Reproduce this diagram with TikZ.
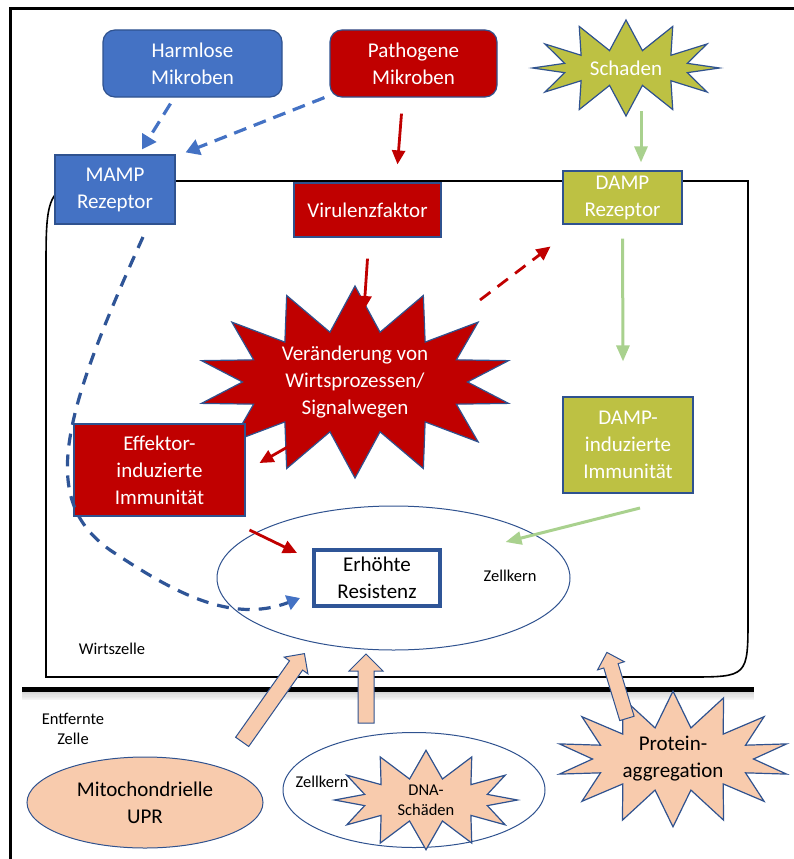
\documentclass[tikz,border=0pt]{standalone}
\usepackage{fontspec}
\setmainfont{Carlito}
\usetikzlibrary{shapes,arrows,arrows.meta,positioning,calc}
\definecolor{mblau}{HTML}{4472C4}
\definecolor{dblau}{HTML}{2F5597}
\definecolor{rand}{HTML}{2F528F}
\definecolor{mrot}{HTML}{C00000}
\definecolor{oliv}{RGB}{189,193,67}
\definecolor{hgruen}{HTML}{A9D18E}
\definecolor{pfirsich}{HTML}{F8CBAD}

\begin{document}
\begin{tikzpicture}[x=1pt, y=-1pt, >={Triangle[length=14pt, width=13pt]},
  every node/.style={font=\fontsize{21}{27}\selectfont},
  klein/.style={font=\fontsize{16.5}{20}\selectfont, align=center, inner sep=0pt},
  box/.style={draw=rand, line width=1.2pt, text=white, align=center, inner sep=0pt},
  blaubox/.style={box, fill=mblau},
  rotbox/.style={box, fill=mrot},
  olivbox/.style={box, fill=oliv},
  stern/.style={starburst, draw=rand, line width=1.2pt, align=center, inner sep=0pt, random starburst=0, starburst point height=#1},
  kernform/.style={ellipse, draw=rand, line width=1pt, align=center, inner sep=0pt},
  pfeil/.style={single arrow, draw=rand, fill=pfirsich, line width=1pt, single arrow head extend=6.5pt, inner sep=7.5pt, minimum height=#1},
  rotpf/.style={->, color=mrot, line width=2.8pt},
  gruenpf/.style={->, color=hgruen, line width=3pt, >={Triangle[length=16pt, width=13pt]}},
  blaupf/.style={->, color=mblau, line width=3.2pt, dash pattern=on 13pt off 8pt, >={Triangle[length=14pt, width=16pt]}}]
  \useasboundingbox (0,0) rectangle (794,859);

  % Rahmen und Wirtszelle
  \draw[line width=3pt] (10,859) -- (10,9) -- (794,9);
  \draw[line width=1.6pt] (46,677) -- (46,271) .. controls (46,181) .. (136,181) -- (748,181)
    -- (748,617) .. controls (748,677) .. (688,677) -- cycle;
  \foreach \i in {1,...,8}
    \draw[black!40, opacity=0.5-0.05*\i, line width=1.2pt] (22,690+\i*1.2) -- (754,690+\i*1.2);
  \draw[line width=5pt] (22,689) -- (754,689);

  % Knoten oben
  \node[blaubox, rounded corners=12pt, minimum width=179pt, minimum height=67pt] (harmlos) at (192.5,63.5) {Harmlose\\Mikroben};
  \node[rotbox, rounded corners=12pt, minimum width=167pt, minimum height=67pt] (pathogen) at (413.5,63.5) {Pathogene\\Mikroben};
  \node[stern=30pt, fill=oliv, text=white, starburst points=12, shape border rotate=8, minimum width=187pt, minimum height=96pt] (schaden) at (626,68) {Schaden};

  % Knoten in der Wirtszelle
  \node[blaubox, minimum width=120pt, minimum height=69pt] (mamp) at (115,189.5) {MAMP\\Rezeptor};
  \node[rotbox, minimum width=147pt, minimum height=54pt] (virulenz) at (367.5,210) {Virulenzfaktor};
  \node[olivbox, minimum width=119pt, minimum height=53pt] (damp) at (622.5,197.5) {DAMP\\Rezeptor};
  \node[stern=45pt, fill=mrot, text=white, starburst points=14, shape border rotate=6, minimum width=315pt, minimum height=186pt] (veraend) at (355,382) {Veränderung von\\Wirtsprozessen/\\Signalwegen};
  \node[rotbox, minimum width=171pt, minimum height=92pt] (effektor) at (159.5,470) {Effektor-\\induzierte\\Immunität};
  \node[olivbox, minimum width=130pt, minimum height=96pt] (dampimm) at (628,445) {DAMP-\\induzierte\\Immunität};
  \node[kernform, minimum width=353pt, minimum height=144pt] (kern) at (393.5,578) {};
  \node[draw=dblau, line width=3.5pt, fill=white, align=center, inner sep=0pt, minimum width=126pt, minimum height=56pt] (resist) at (377,578) {Erhöhte\\Resistenz};
  \node[klein] (kernlabel) at (510,576) {Zellkern};
  \node[klein] (wirt) at (112,649) {Wirtszelle};

  % entfernte Zelle
  \node[klein] (entfernt) at (73,729) {Entfernte\\Zelle};
  \node[kernform, fill=pfirsich, minimum width=236pt, minimum height=91pt] (mito) at (145,802.5) {Mitochondrielle\\UPR};
  \node[kernform, minimum width=262pt, minimum height=115pt] (kern2) at (414,790) {};
  \node[stern=28pt, fill=pfirsich, klein, starburst points=12, shape border rotate=10, minimum width=183pt, minimum height=96pt] (dna) at (426,800) {DNA-\\Schäden};
  \node[klein] (kern2label) at (322,782) {Zellkern};
  \node[stern=36pt, fill=pfirsich, starburst points=14, shape border rotate=5, minimum width=233pt, minimum height=117pt] (protein) at (673,759) {Protein-\\aggregation};

  % Blockpfeile
  \node[pfeil=108pt, rotate=54.8] (pfa) at (271,701) {};
  \node[pfeil=69pt, rotate=90, single arrow head extend=9pt] (pfb) at (366,692.5) {};
  \node[pfeil=69pt, rotate=106.9, inner sep=7pt] (pfc) at (618,689) {};

  % Pfeile
  \path[blaupf]
    ([shift={(-22,6)}]harmlos.south) edge ([shift={(27,-5)}]mamp.north)
    ([shift={(-5,0)}]pathogen.south west) edge ([shift={(10,-2)}]mamp.north east);
  \draw[->, draw=dblau, line width=3.2pt, dash pattern=on 12pt off 9pt, >={Triangle[length=13pt, width=15pt, color=mblau]}]
    ([shift={(28,47.5)}]mamp.center) .. controls (60,420) and (40,500) .. (110,550)
    .. controls (170,590) and (230,625) .. ([shift={(-77,20)}]resist.center);
  \path[rotpf]
    ([shift={(-12,16)}]pathogen.south) edge ([shift={(30,-18)}]virulenz.north)
    ([shift={(0,21)}]virulenz.south) edge ([shift={(9,-72)}]veraend.center)
    ([shift={(-50,55)}]veraend.center) edge ([shift={(100,-7)}]effektor.center)
    ([shift={(90,60)}]effektor.center) edge ([shift={(-80,-25)}]resist.center);
  \draw[rotpf, dash pattern=on 13pt off 9pt]
    ([shift={(125,-82)}]veraend.center) -- ([shift={(-72,49)}]damp.center);
  \path[gruenpf]
    ([shift={(18.5,-59)}]damp.north) edge ([shift={(18.5,-8)}]damp.north)
    ([shift={(0,14)}]damp.south) edge ([shift={(-5,-35)}]dampimm.north)
    ([shift={(12,63)}]dampimm.center) edge ([shift={(112,-36)}]kern.center);
\end{tikzpicture}
\end{document}
